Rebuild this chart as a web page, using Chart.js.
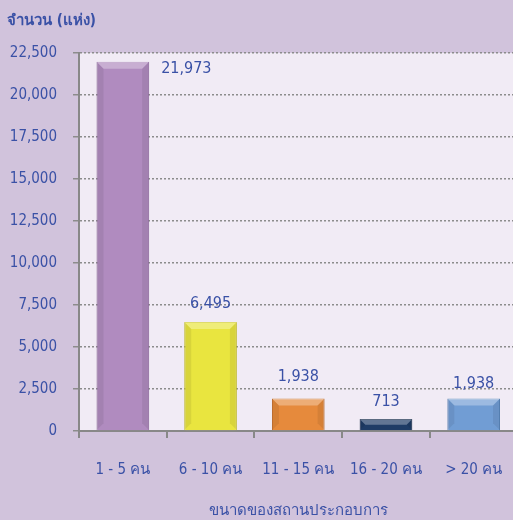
<!DOCTYPE html>
<html>
<head>
<meta charset="utf-8">
<script src="https://cdn.jsdelivr.net/npm/chart.js@4/dist/chart.umd.min.js"></script>
<style>
  html, body { margin: 0; padding: 0; overflow: hidden; background: #d1c3dc; }
  #wrap { width: 513px; height: 520px; overflow: hidden; }
</style>
</head>
<body>
<div id="wrap"><canvas id="sizeChart" width="526" height="520"></canvas></div>
<script>
// ข้อมูล
const categories = ['1 - 5 คน', '6 - 10 คน', '11 - 15 คน', '16 - 20 คน', '> 20 คน'];
const counts = [21973, 6495, 1938, 713, 1938];
const barColors = ['#b08bbf', '#e9e53f', '#e68a3c', '#1f3c66', '#719dd4'];
const barEdges = ['#9a74aa', '#d0cc2c', '#c8702a', '#142a4a', '#5a86bd'];
const yTicks = [0, 2500, 5000, 7500, 10000, 12500, 15000, 17500, 20000, 22500];

const textBlue = '#3a51a6';
const fontName = '"DejaVu Sans Condensed", "DejaVu Sans", sans-serif';

// พื้นหลังพื้นที่กราฟ
const plotBg = {
    id: 'plotBg',
    beforeDraw(chart) {
        const a = chart.chartArea;
        const c = chart.ctx;
        c.save();
        c.fillStyle = '#f1ebf5';
        c.fillRect(a.left, a.top, a.right - a.left, a.bottom - a.top);
        c.restore();
    }
};

// เอฟเฟกต์นูนของแท่ง + ป้ายค่า
const barDecor = {
    id: 'barDecor',
    afterDatasetsDraw(chart) {
        const c = chart.ctx;
        const meta = chart.getDatasetMeta(0);
        c.save();
        meta.data.forEach((bar) => {
            const l = bar.x - bar.width / 2, r = bar.x + bar.width / 2;
            const t = bar.y, b = bar.base;
            const h = Math.min(7, (b - t) / 2);
            // แถบบนสว่าง
            c.fillStyle = 'rgba(255,255,255,0.3)';
            c.beginPath();
            c.moveTo(l, t); c.lineTo(r, t); c.lineTo(r - h, t + h); c.lineTo(l + h, t + h);
            c.closePath(); c.fill();
            // ขอบข้างเข้ม
            c.fillStyle = 'rgba(0,0,0,0.07)';
            c.beginPath();
            c.moveTo(l, t); c.lineTo(l + h, t + h); c.lineTo(l + h, b - h); c.lineTo(l, b);
            c.closePath(); c.fill();
            c.beginPath();
            c.moveTo(r, t); c.lineTo(r - h, t + h); c.lineTo(r - h, b - h); c.lineTo(r, b);
            c.closePath(); c.fill();
        });

        const gaps = [0, 18, 22, 17, 15];
        c.font = '16px ' + fontName;
        c.fillStyle = textBlue;
        c.textBaseline = 'middle';
        meta.data.forEach((bar, i) => {
            const txt = counts[i].toLocaleString('en-US');
            if (i === 0) {
                c.textAlign = 'left';
                c.fillText(txt, bar.x + bar.width / 2 + 12, bar.y + 7);
            } else {
                c.textAlign = 'center';
                c.fillText(txt, bar.x, bar.y - gaps[i]);
            }
        });
        c.restore();
    }
};

new Chart(document.getElementById('sizeChart').getContext('2d'), {
    type: 'bar',
    data: {
        labels: categories,
        datasets: [{
            label: 'จำนวน',
            data: counts,
            backgroundColor: barColors,
            borderColor: barEdges,
            borderWidth: 1,
            categoryPercentage: 1,
            barPercentage: 0.6
        }]
    },
    options: {
        responsive: false,
        animation: false,
        layout: { padding: { top: 0, right: 8, bottom: 0, left: 7 } },
        plugins: {
            legend: { display: false },
            tooltip: { enabled: false },
            title: {
                display: true,
                text: 'จำนวน (แห่ง)',
                align: 'start',
                color: textBlue,
                font: { family: fontName, size: 15, weight: 'bold' },
                padding: { top: 12, bottom: 23 }
            }
        },
        scales: {
            y: {
                min: 0,
                max: 22500,
                afterBuildTicks(axis) {
                    axis.ticks = yTicks.map(v => ({ value: v }));
                },
                afterFit(axis) {
                    axis.width = 72;
                },
                ticks: {
                    color: textBlue,
                    font: { family: fontName, size: 15 },
                    padding: 16,
                    callback: v => v.toLocaleString('en-US')
                },
                grid: {
                    color: '#8c8c8c',
                    lineWidth: 1.5,
                    tickLength: 6,
                    tickColor: '#8c8c8c'
                },
                border: { color: '#888888', width: 2, dash: [2, 2] }
            },
            x: {
                ticks: {
                    color: textBlue,
                    font: { family: fontName, size: 15 },
                    padding: 23
                },
                grid: {
                    display: true,
                    drawOnChartArea: false,
                    offset: true,
                    tickLength: 7,
                    tickColor: '#888888',
                    lineWidth: 2
                },
                border: { color: '#888888', width: 2 },
                title: {
                    display: true,
                    text: 'ขนาดของสถานประกอบการ',
                    color: textBlue,
                    font: { family: fontName, size: 15 },
                    padding: { top: 0, bottom: 0 }
                }
            }
        }
    },
    plugins: [plotBg, barDecor]
});
</script>
</body>
</html>
